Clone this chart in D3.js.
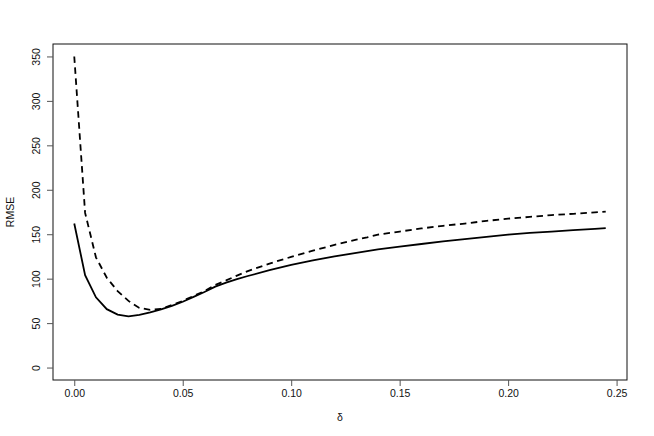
<!DOCTYPE html>
<html><head><meta charset="utf-8">
<script src="https://cdn.jsdelivr.net/npm/d3@7"></script>
<style>
body{margin:0;background:#fff}
text{font-family:"Liberation Sans",Arial,Helvetica,sans-serif;fill:#111}
</style>
</head><body>
<svg id="chart" width="654" height="436"></svg>
<script>
const delta = [0,0.005,0.01,0.015,0.02,0.025,0.03,0.035,0.04,0.045,0.05,0.055,0.06,0.065,0.07,0.075,0.08,0.09,0.10,0.11,0.12,0.13,0.135,0.14,0.15,0.16,0.17,0.18,0.19,0.20,0.21,0.22,0.23,0.24,0.245];
const rmseSolid = [162,104,79,65.7,59.5,57.6,59.3,62,65.5,69.5,74,79.5,85,91,95.5,99.5,103,109.5,115.5,120.5,125,129,131,133,136,139,142,144.5,147,149.5,151.5,153,154.5,156,156.8];
const rmseDashed = [350,174,124,101,86,75,67,65,66,70.5,75,80.5,86,93,98,103.5,108.5,117,124.5,131.5,138,144,146.5,149.5,153,156.5,159.5,162,165,167.5,169.5,171.5,173,174.5,175.5];
const xTicks = [0,0.05,0.10,0.15,0.20,0.25];
const xTickLabels = ["0.00","0.05","0.10","0.15","0.20","0.25"];
const yTicks = [0,50,100,150,200,250,300,350];
const xLabel = "δ";
const yLabel = "RMSE";

const svg = d3.select("#chart");
const L = 53, R = 627, T = 44, B = 380;
const x = d3.scaleLinear().domain([-0.0098, 0.2548]).range([L, R]);
const y = d3.scaleLinear().domain([-14, 364]).range([B, T]);

// box
svg.append("rect").attr("x", L).attr("y", T).attr("width", R - L).attr("height", B - T)
  .attr("fill", "none").attr("stroke", "#111").attr("stroke-width", 1);

// x axis
const xAxis = d3.axisBottom(x).tickValues(xTicks).tickSize(6).tickPadding(4)
  .tickFormat((d, i) => xTickLabels[i]);
const gx = svg.append("g").attr("transform", `translate(0,${B})`).call(xAxis);
gx.select(".domain").remove();
gx.selectAll(".tick line").attr("stroke", "#555");
gx.selectAll(".tick text").attr("font-size", "10.5px").attr("fill", "#111")
  .attr("font-family", "'Liberation Sans',Arial,sans-serif").attr("dy", "0.71em");

// y axis
const yAxis = d3.axisLeft(y).tickValues(yTicks).tickSize(6).tickFormat(d3.format("d"));
const gy = svg.append("g").attr("transform", `translate(${L},0)`).call(yAxis);
gy.select(".domain").remove();
gy.selectAll(".tick line").attr("stroke", "#555");
gy.selectAll(".tick text").attr("font-size", "10.5px").attr("fill", "#111")
  .attr("font-family", "'Liberation Sans',Arial,sans-serif")
  .attr("x", null).attr("dy", null).attr("text-anchor", "middle")
  .attr("transform", "translate(-16.5,0) rotate(-90)").attr("y", 0).attr("dy", "0.35em");

// axis titles
svg.append("text").attr("x", (L + R) / 2).attr("y", 421).attr("text-anchor", "middle")
  .attr("font-size", "10.5px").text(xLabel);
svg.append("text").attr("transform", `translate(14,${(T + B) / 2}) rotate(-90)`)
  .attr("text-anchor", "middle").attr("font-size", "10.5px").text(yLabel);

const line = d3.line().x(d => x(d[0])).y(d => y(d[1]));
svg.append("path").datum(delta.map((d, i) => [d, rmseDashed[i]]))
  .attr("d", line).attr("fill", "none").attr("stroke", "#000")
  .attr("stroke-width", 1.8).attr("stroke-dasharray", "6.5,4.5");
svg.append("path").datum(delta.map((d, i) => [d, rmseSolid[i]]))
  .attr("d", line).attr("fill", "none").attr("stroke", "#000")
  .attr("stroke-width", 1.8);
</script>
</body></html>
